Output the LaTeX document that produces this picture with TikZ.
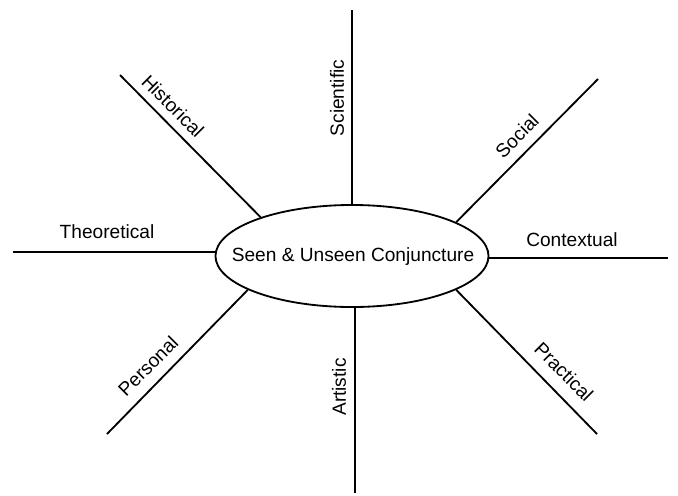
\documentclass[tikz,border=0pt]{standalone}
\usepackage{fontspec}
\setmainfont{Liberation Sans}
\usetikzlibrary{shapes.geometric}

\begin{document}
\begin{tikzpicture}[x=0.025cm, y=-0.025cm, line width=1.3pt,
  font=\fontsize{13.6pt}{16pt}\selectfont,
  hub/.style={draw, ellipse, minimum width=6.825cm, minimum height=2.55cm, inner sep=0pt},
  lab/.style={inner sep=0pt}]
  \useasboundingbox (0,0) rectangle (678,495);

  \node[hub] (core) at (352,256) {};
  \node[lab] (title) at (353,257) {Seen \& Unseen Conjuncture};

  \coordinate (Sci) at (352,10);
  \coordinate (Art) at (355,493);
  \coordinate (Theo) at (13,252);
  \coordinate (Ctx) at (668,258);
  \coordinate (Hist) at (120,75);
  \coordinate (Soc) at (598,79);
  \coordinate (Pers) at (107,434);
  \coordinate (Prac) at (597,434);

  \draw (Sci) -- (Sci |- core.north);
  \draw (Art) -- (Art |- core.south);
  \draw (Theo) -- (Theo -| core.west);
  \draw (Ctx) -- (Ctx -| core.east);
  \draw (Hist) -- (core.157);
  \draw (Soc) -- (core.18);
  \draw (Pers) -- (core.198);
  \draw (Prac) -- (core.342);

  \node[lab, rotate=90] (sciLab) at (337,98) {Scientific};
  \node[lab, rotate=90] (artLab) at (339,387) {Artistic};
  \node[lab] (theoLab) at (107,232) {Theoretical};
  \node[lab] (ctxLab) at (572,240) {Contextual};
  \node[lab, rotate=-45] (histLab) at (173,106) {Historical};
  \node[lab, rotate=45] (socLab) at (517,136) {Social};
  \node[lab, rotate=45] (persLab) at (148,366) {Personal};
  \node[lab, rotate=-45] (pracLab) at (564,372) {Practical};
\end{tikzpicture}
\end{document}
